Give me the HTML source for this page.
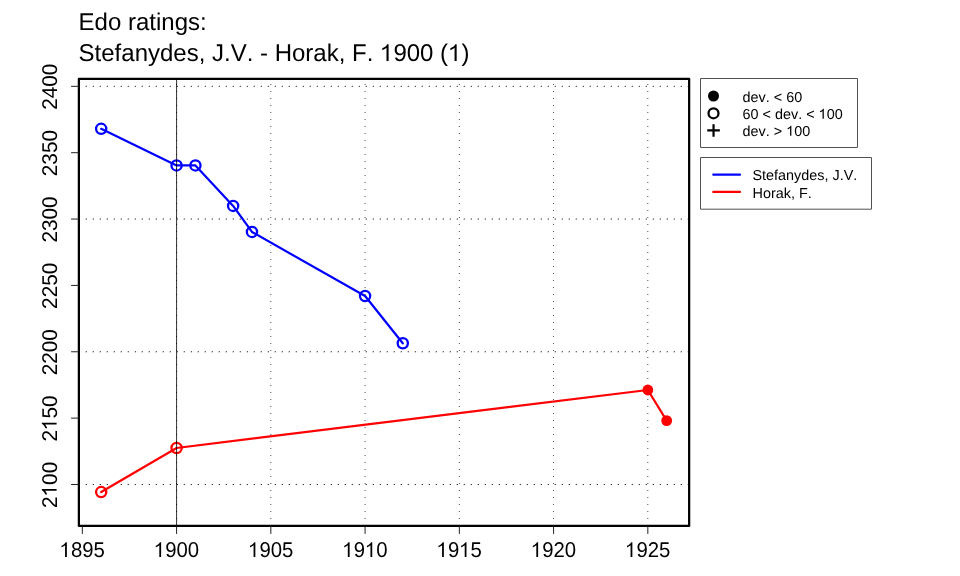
<!DOCTYPE html>
<html><head><meta charset="utf-8"><title>Edo ratings</title>
<style>html,body{margin:0;padding:0;background:#fff;}body{width:960px;height:576px;overflow:hidden;}svg{display:block;will-change:transform;}text{font-family:"Liberation Sans",sans-serif;fill:#000;font-kerning:none;white-space:pre;text-rendering:geometricPrecision;}</style>
</head><body>
<svg width="960" height="576" viewBox="0 0 960 576">
<rect x="0" y="0" width="960" height="576" fill="#ffffff"/>
<g transform="translate(78.60,29.50) scale(1.0,1.012)"><text x="0.00" font-size="24">Edo ratings:</text></g>
<g transform="translate(78.60,61.00) scale(1.0,1.012)"><text x="0.00" font-size="24">Stefanydes, J.V. - Horak, F. </text><path transform="translate(301.08,0) scale(24,23.160)" d="M.372 0H.284V-.562C.25-.53 .2-.498 .109-.456V-.541C.19-.576 .29-.642 .316-.716H.372Z"/><text x="314.79" font-size="24">900 (</text><path transform="translate(369.13,0) scale(24,23.160)" d="M.372 0H.284V-.562C.25-.53 .2-.498 .109-.456V-.541C.19-.576 .29-.642 .316-.716H.372Z"/><text x="382.84" font-size="24">)</text></g>
<g stroke="#222" stroke-width="1.05" stroke-linecap="round" fill="none"><line x1="86.10" y1="484.50" x2="688.15" y2="484.50" stroke-dasharray="0.4 6.6"/><line x1="86.10" y1="351.78" x2="688.15" y2="351.78" stroke-dasharray="0.4 6.6"/><line x1="86.10" y1="219.06" x2="688.15" y2="219.06" stroke-dasharray="0.4 6.6"/><line x1="86.10" y1="86.34" x2="688.15" y2="86.34" stroke-dasharray="0.4 6.6"/><line x1="176.58" y1="518.50" x2="176.58" y2="79.85" stroke-dasharray="0.01 6.99"/><line x1="270.83" y1="518.50" x2="270.83" y2="79.85" stroke-dasharray="0.01 6.99"/><line x1="365.08" y1="518.50" x2="365.08" y2="79.85" stroke-dasharray="0.01 6.99"/><line x1="459.33" y1="518.50" x2="459.33" y2="79.85" stroke-dasharray="0.01 6.99"/><line x1="553.58" y1="518.50" x2="553.58" y2="79.85" stroke-dasharray="0.01 6.99"/><line x1="647.83" y1="518.50" x2="647.83" y2="79.85" stroke-dasharray="0.01 6.99"/></g>
<polyline points="101.18,128.81 176.58,165.44 195.43,165.44 233.13,205.92 251.98,231.93 365.08,296.04 402.78,343.29" fill="none" stroke="#0000ff" stroke-width="2.2" stroke-linejoin="round" stroke-linecap="round"/>
<polyline points="101.18,492.07 176.58,448.00 647.83,390.00 666.68,420.60" fill="none" stroke="#ff0000" stroke-width="2.2" stroke-linejoin="round" stroke-linecap="round"/>
<circle cx="101.18" cy="128.81" r="5.1" fill="none" stroke="#0000ff" stroke-width="2.3"/>
<circle cx="176.58" cy="165.44" r="5.1" fill="none" stroke="#0000ff" stroke-width="2.3"/>
<circle cx="195.43" cy="165.44" r="5.1" fill="none" stroke="#0000ff" stroke-width="2.3"/>
<circle cx="233.13" cy="205.92" r="5.1" fill="none" stroke="#0000ff" stroke-width="2.3"/>
<circle cx="251.98" cy="231.93" r="5.1" fill="none" stroke="#0000ff" stroke-width="2.3"/>
<circle cx="365.08" cy="296.04" r="5.1" fill="none" stroke="#0000ff" stroke-width="2.3"/>
<circle cx="402.78" cy="343.29" r="5.1" fill="none" stroke="#0000ff" stroke-width="2.3"/>
<circle cx="101.18" cy="492.07" r="5.1" fill="none" stroke="#ff0000" stroke-width="2.3"/>
<circle cx="176.58" cy="448.00" r="5.1" fill="none" stroke="#ff0000" stroke-width="2.3"/>
<circle cx="647.83" cy="390.00" r="5.4" fill="#ff0000"/>
<circle cx="666.68" cy="420.60" r="5.4" fill="#ff0000"/>
<line x1="176.58" y1="78.85" x2="176.58" y2="525.90" stroke="#000" stroke-opacity="0.8" stroke-width="1"/>
<rect x="78.88" y="78.85" width="610.27" height="447.05" fill="none" stroke="#000" stroke-width="2.25" stroke-linejoin="round"/>
<g stroke="#222" stroke-width="1" fill="none"><line x1="82.33" y1="525.90" x2="82.33" y2="533.90"/><line x1="176.58" y1="525.90" x2="176.58" y2="533.90"/><line x1="270.83" y1="525.90" x2="270.83" y2="533.90"/><line x1="365.08" y1="525.90" x2="365.08" y2="533.90"/><line x1="459.33" y1="525.90" x2="459.33" y2="533.90"/><line x1="553.58" y1="525.90" x2="553.58" y2="533.90"/><line x1="647.83" y1="525.90" x2="647.83" y2="533.90"/><line x1="78.88" y1="484.50" x2="71.08" y2="484.50"/><line x1="78.88" y1="418.14" x2="71.08" y2="418.14"/><line x1="78.88" y1="351.78" x2="71.08" y2="351.78"/><line x1="78.88" y1="285.42" x2="71.08" y2="285.42"/><line x1="78.88" y1="219.06" x2="71.08" y2="219.06"/><line x1="78.88" y1="152.70" x2="71.08" y2="152.70"/><line x1="78.88" y1="86.34" x2="71.08" y2="86.34"/></g>
<g transform="translate(82.23,556.90) scale(1.0,1.05)"><path transform="translate(-22.94,0) scale(20.35,19.638)" d="M.372 0H.284V-.562C.25-.53 .2-.498 .109-.456V-.541C.19-.576 .29-.642 .316-.716H.372Z"/><text x="-11.32" font-size="20.35">895</text></g>
<g transform="translate(176.48,556.90) scale(1.0,1.05)"><path transform="translate(-22.94,0) scale(20.35,19.638)" d="M.372 0H.284V-.562C.25-.53 .2-.498 .109-.456V-.541C.19-.576 .29-.642 .316-.716H.372Z"/><text x="-11.32" font-size="20.35">900</text></g>
<g transform="translate(270.73,556.90) scale(1.0,1.05)"><path transform="translate(-22.94,0) scale(20.35,19.638)" d="M.372 0H.284V-.562C.25-.53 .2-.498 .109-.456V-.541C.19-.576 .29-.642 .316-.716H.372Z"/><text x="-11.32" font-size="20.35">905</text></g>
<g transform="translate(364.98,556.90) scale(1.0,1.05)"><path transform="translate(-22.94,0) scale(20.35,19.638)" d="M.372 0H.284V-.562C.25-.53 .2-.498 .109-.456V-.541C.19-.576 .29-.642 .316-.716H.372Z"/><text x="-11.32" font-size="20.35">9</text><path transform="translate(-0.31,0) scale(20.35,19.638)" d="M.372 0H.284V-.562C.25-.53 .2-.498 .109-.456V-.541C.19-.576 .29-.642 .316-.716H.372Z"/><text x="11.32" font-size="20.35">0</text></g>
<g transform="translate(459.23,556.90) scale(1.0,1.05)"><path transform="translate(-22.94,0) scale(20.35,19.638)" d="M.372 0H.284V-.562C.25-.53 .2-.498 .109-.456V-.541C.19-.576 .29-.642 .316-.716H.372Z"/><text x="-11.32" font-size="20.35">9</text><path transform="translate(-0.31,0) scale(20.35,19.638)" d="M.372 0H.284V-.562C.25-.53 .2-.498 .109-.456V-.541C.19-.576 .29-.642 .316-.716H.372Z"/><text x="11.32" font-size="20.35">5</text></g>
<g transform="translate(553.48,556.90) scale(1.0,1.05)"><path transform="translate(-22.94,0) scale(20.35,19.638)" d="M.372 0H.284V-.562C.25-.53 .2-.498 .109-.456V-.541C.19-.576 .29-.642 .316-.716H.372Z"/><text x="-11.32" font-size="20.35">920</text></g>
<g transform="translate(647.73,556.90) scale(1.0,1.05)"><path transform="translate(-22.94,0) scale(20.35,19.638)" d="M.372 0H.284V-.562C.25-.53 .2-.498 .109-.456V-.541C.19-.576 .29-.642 .316-.716H.372Z"/><text x="-11.32" font-size="20.35">925</text></g>
<g transform="translate(56.60,484.90) rotate(-90) scale(1.0,1.03)"><text x="-23.08" font-size="20.75">2</text><path transform="translate(-11.85,0) scale(20.75,20.024)" d="M.372 0H.284V-.562C.25-.53 .2-.498 .109-.456V-.541C.19-.576 .29-.642 .316-.716H.372Z"/><text x="0.00" font-size="20.75">00</text></g>
<g transform="translate(56.60,418.54) rotate(-90) scale(1.0,1.03)"><text x="-23.08" font-size="20.75">2</text><path transform="translate(-11.85,0) scale(20.75,20.024)" d="M.372 0H.284V-.562C.25-.53 .2-.498 .109-.456V-.541C.19-.576 .29-.642 .316-.716H.372Z"/><text x="0.00" font-size="20.75">50</text></g>
<g transform="translate(56.60,352.18) rotate(-90) scale(1.0,1.03)"><text x="-23.08" font-size="20.75">2200</text></g>
<g transform="translate(56.60,285.82) rotate(-90) scale(1.0,1.03)"><text x="-23.08" font-size="20.75">2250</text></g>
<g transform="translate(56.60,219.46) rotate(-90) scale(1.0,1.03)"><text x="-23.08" font-size="20.75">2300</text></g>
<g transform="translate(56.60,153.10) rotate(-90) scale(1.0,1.03)"><text x="-23.08" font-size="20.75">2350</text></g>
<g transform="translate(56.60,86.74) rotate(-90) scale(1.0,1.03)"><text x="-23.08" font-size="20.75">2400</text></g>
<rect x="700.5" y="78.5" width="157" height="69" fill="#fff" stroke="#525252" stroke-width="1" stroke-linejoin="round"/>
<circle cx="713.5" cy="96.0" r="5.5" fill="#000"/>
<circle cx="713.5" cy="113.25" r="5.0" fill="none" stroke="#000" stroke-width="2.25"/>
<path d="M707.25 130.45H719.85M713.55 124.15V136.75" fill="none" stroke="#000" stroke-width="2.2"/>
<g transform="translate(742.60,101.70)"><text x="0.00" font-size="14.4">dev. &lt; 60</text></g>
<g transform="translate(742.60,118.70)"><text x="0.00" font-size="14.4">60 &lt; dev. &lt; </text><path transform="translate(75.84,0) scale(14.4,13.896)" d="M.372 0H.284V-.562C.25-.53 .2-.498 .109-.456V-.541C.19-.576 .29-.642 .316-.716H.372Z"/><text x="84.07" font-size="14.4">00</text></g>
<g transform="translate(742.60,135.70)"><text x="0.00" font-size="14.4">dev. &gt; </text><path transform="translate(43.41,0) scale(14.4,13.896)" d="M.372 0H.284V-.562C.25-.53 .2-.498 .109-.456V-.541C.19-.576 .29-.642 .316-.716H.372Z"/><text x="51.64" font-size="14.4">00</text></g>
<rect x="700.5" y="157.5" width="171" height="51.7" fill="#fff" stroke="#525252" stroke-width="1" stroke-linejoin="round"/>
<line x1="713.3" y1="174.7" x2="740.0" y2="174.7" stroke="#0000ff" stroke-width="2.2" stroke-linecap="round"/>
<line x1="713.3" y1="191.9" x2="740.0" y2="191.9" stroke="#ff0000" stroke-width="2.2" stroke-linecap="round"/>
<g transform="translate(752.50,180.00)"><text x="0.00" font-size="14.4">Stefanydes, J.V.</text></g>
<g transform="translate(752.50,198.00)"><text x="0.00" font-size="14.4">Horak, F.</text></g>
</svg></body></html>
